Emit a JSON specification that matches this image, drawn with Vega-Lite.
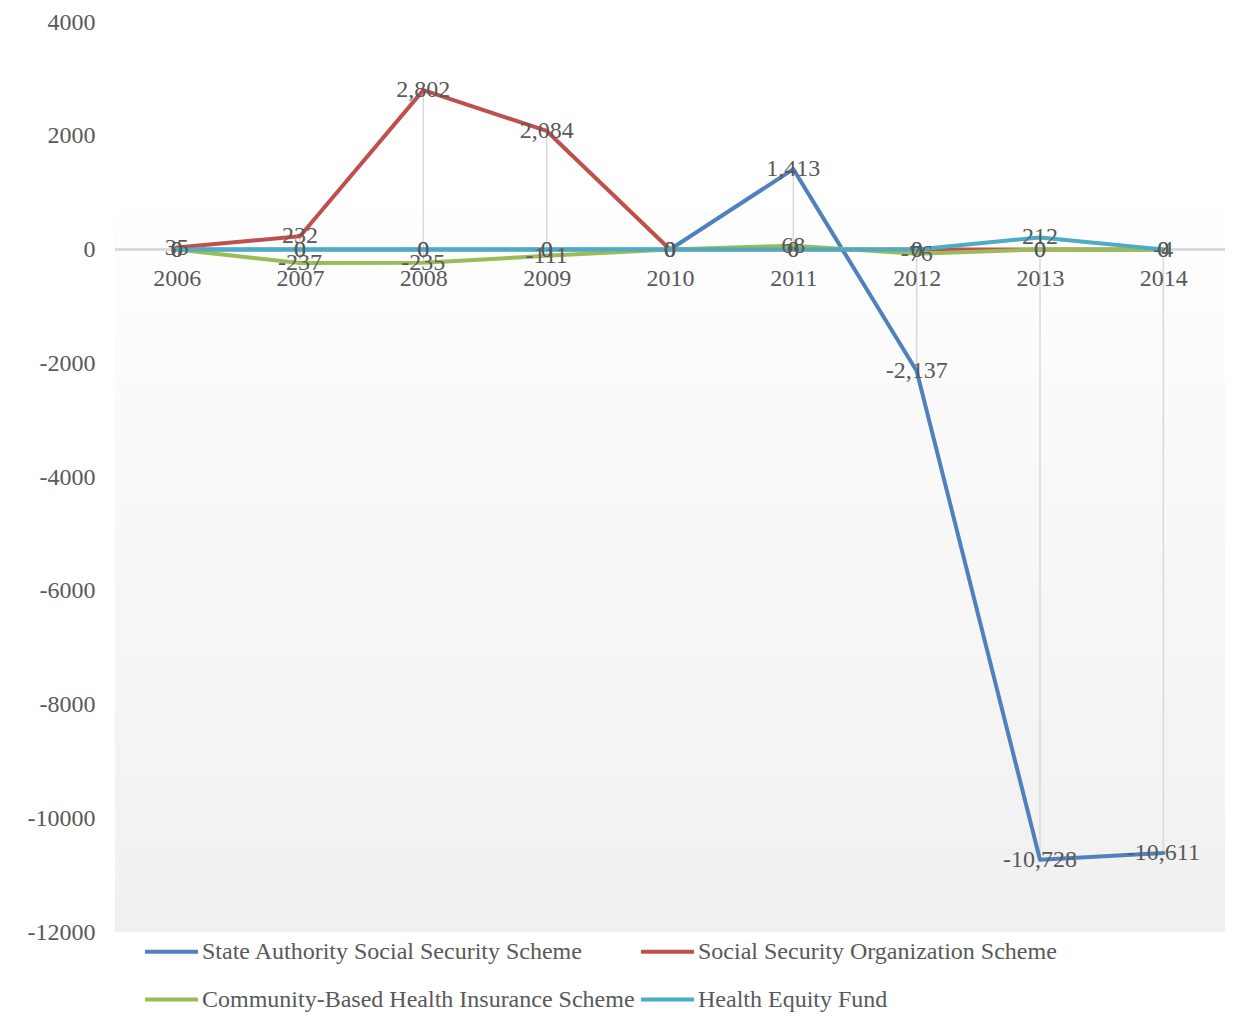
{
  "$schema": "https://vega.github.io/schema/vega-lite/v6.json",
  "width": 1110,
  "height": 910,
  "autosize": {"type": "none"},
  "padding": {"left": 115, "top": 22, "right": 32, "bottom": 102},
  "background": "#ffffff",
  "config": {
    "view": {"stroke": null},
    "font": "Liberation Serif",
    "text": {"font": "Liberation Serif"},
    "locale": {
      "number": {
        "decimal": ".",
        "thousands": ",",
        "grouping": [3],
        "currency": ["$", ""],
        "minus": "-"
      }
    }
  },
  "datasets": {
    "schemes": [
      {"year": "2006", "scheme": "State Authority Social Security Scheme", "value": 0},
      {"year": "2007", "scheme": "State Authority Social Security Scheme", "value": 0},
      {"year": "2008", "scheme": "State Authority Social Security Scheme", "value": 0},
      {"year": "2009", "scheme": "State Authority Social Security Scheme", "value": 0},
      {"year": "2010", "scheme": "State Authority Social Security Scheme", "value": 0},
      {"year": "2011", "scheme": "State Authority Social Security Scheme", "value": 1413},
      {"year": "2012", "scheme": "State Authority Social Security Scheme", "value": -2137},
      {"year": "2013", "scheme": "State Authority Social Security Scheme", "value": -10728},
      {"year": "2014", "scheme": "State Authority Social Security Scheme", "value": -10611},
      {"year": "2006", "scheme": "Social Security Organization Scheme", "value": 35},
      {"year": "2007", "scheme": "Social Security Organization Scheme", "value": 232},
      {"year": "2008", "scheme": "Social Security Organization Scheme", "value": 2802},
      {"year": "2009", "scheme": "Social Security Organization Scheme", "value": 2084},
      {"year": "2010", "scheme": "Social Security Organization Scheme", "value": 0},
      {"year": "2011", "scheme": "Social Security Organization Scheme", "value": 0},
      {"year": "2012", "scheme": "Social Security Organization Scheme", "value": 0},
      {"year": "2013", "scheme": "Social Security Organization Scheme", "value": 0},
      {"year": "2014", "scheme": "Social Security Organization Scheme", "value": 0},
      {"year": "2006", "scheme": "Community-Based Health Insurance Scheme", "value": 0},
      {"year": "2007", "scheme": "Community-Based Health Insurance Scheme", "value": -237},
      {"year": "2008", "scheme": "Community-Based Health Insurance Scheme", "value": -235},
      {"year": "2009", "scheme": "Community-Based Health Insurance Scheme", "value": -111},
      {"year": "2010", "scheme": "Community-Based Health Insurance Scheme", "value": 0},
      {"year": "2011", "scheme": "Community-Based Health Insurance Scheme", "value": 68},
      {"year": "2012", "scheme": "Community-Based Health Insurance Scheme", "value": -76},
      {"year": "2013", "scheme": "Community-Based Health Insurance Scheme", "value": 0},
      {"year": "2014", "scheme": "Community-Based Health Insurance Scheme", "value": -4},
      {"year": "2006", "scheme": "Health Equity Fund", "value": 0},
      {"year": "2007", "scheme": "Health Equity Fund", "value": 0},
      {"year": "2008", "scheme": "Health Equity Fund", "value": 0},
      {"year": "2009", "scheme": "Health Equity Fund", "value": 0},
      {"year": "2010", "scheme": "Health Equity Fund", "value": 0},
      {"year": "2011", "scheme": "Health Equity Fund", "value": 0},
      {"year": "2012", "scheme": "Health Equity Fund", "value": 0},
      {"year": "2013", "scheme": "Health Equity Fund", "value": 212},
      {"year": "2014", "scheme": "Health Equity Fund", "value": 0}
    ]
  },
  "data": {"name": "schemes"},
  "encoding": {
    "x": {
      "field": "year",
      "type": "ordinal",
      "scale": {"type": "point", "padding": 0.5},
      "axis": {
        "title": null,
        "domain": false,
        "ticks": false,
        "labelAngle": 0,
        "labelFont": "Liberation Serif",
        "labelFontSize": 24,
        "labelColor": "#595959",
        "offset": -682,
        "labelPadding": 16,
        "zindex": 1
      }
    }
  },
  "layer": [
    {
      "data": {"values": [{}]},
      "mark": {
        "type": "rect",
        "fill": {
          "gradient": "linear",
          "x1": 0, "y1": 0, "x2": 0, "y2": 1,
          "stops": [
            {"offset": 0, "color": "#fefefe"},
            {"offset": 1, "color": "#f0f0f0"}
          ]
        }
      },
      "encoding": {
        "x": null,
        "y": {"datum": 690, "type": "quantitative", "scale": {"domain": [-12000, 4000], "nice": false}},
        "y2": {"datum": -12000}
      }
    },
    {
      "mark": {"type": "rule", "color": "#d9d9d9", "strokeWidth": 1.5},
      "encoding": {
        "x": null,
        "y": {"datum": 0, "type": "quantitative"}
      }
    },
    {
      "transform": [
        {
          "aggregate": [
            {"op": "max", "field": "value", "as": "hi"},
            {"op": "min", "field": "value", "as": "lo"}
          ],
          "groupby": ["year"]
        }
      ],
      "mark": {"type": "rule", "color": "#d9d9d9", "strokeWidth": 1.5},
      "encoding": {
        "y": {"field": "hi", "type": "quantitative"},
        "y2": {"field": "lo"}
      }
    },
    {
      "mark": {"type": "line", "strokeWidth": 4, "strokeCap": "round", "strokeJoin": "round"},
      "encoding": {
        "y": {
          "field": "value",
          "type": "quantitative",
          "scale": {"domain": [-12000, 4000], "nice": false},
          "axis": {
            "title": null,
            "values": [-12000, -10000, -8000, -6000, -4000, -2000, 0, 2000, 4000],
            "format": "d",
            "grid": false,
            "domain": false,
            "ticks": false,
            "labelFont": "Liberation Serif",
            "labelFontSize": 24,
            "labelColor": "#595959",
            "labelPadding": 20,
            "zindex": 1
          }
        },
        "color": {
          "field": "scheme",
          "type": "nominal",
          "scale": {
            "domain": [
              "State Authority Social Security Scheme",
              "Social Security Organization Scheme",
              "Community-Based Health Insurance Scheme",
              "Health Equity Fund"
            ],
            "range": ["#4f81bd", "#c0504d", "#9bbb59", "#4bacc6"]
          },
          "legend": {
            "title": null,
            "orient": "none",
            "legendX": 28,
            "legendY": 901,
            "direction": "horizontal",
            "columns": 2,
            "columnPadding": -2,
            "rowPadding": 7,
            "symbolType": "stroke",
            "symbolSize": 2800,
            "symbolStrokeWidth": 4,
            "symbolOffset": 0,
            "labelOffset": 2,
            "labelFont": "Liberation Serif",
            "labelFontSize": 24,
            "labelColor": "#595959",
            "labelLimit": 600
          }
        },
        "order": {"field": "year"}
      }
    },
    {
      "mark": {"type": "text", "fontSize": 24, "color": "#595959", "align": "center", "baseline": "middle"},
      "encoding": {
        "y": {"field": "value", "type": "quantitative"},
        "text": {"field": "value", "type": "quantitative", "format": ",.0f"}
      }
    }
  ]
}
